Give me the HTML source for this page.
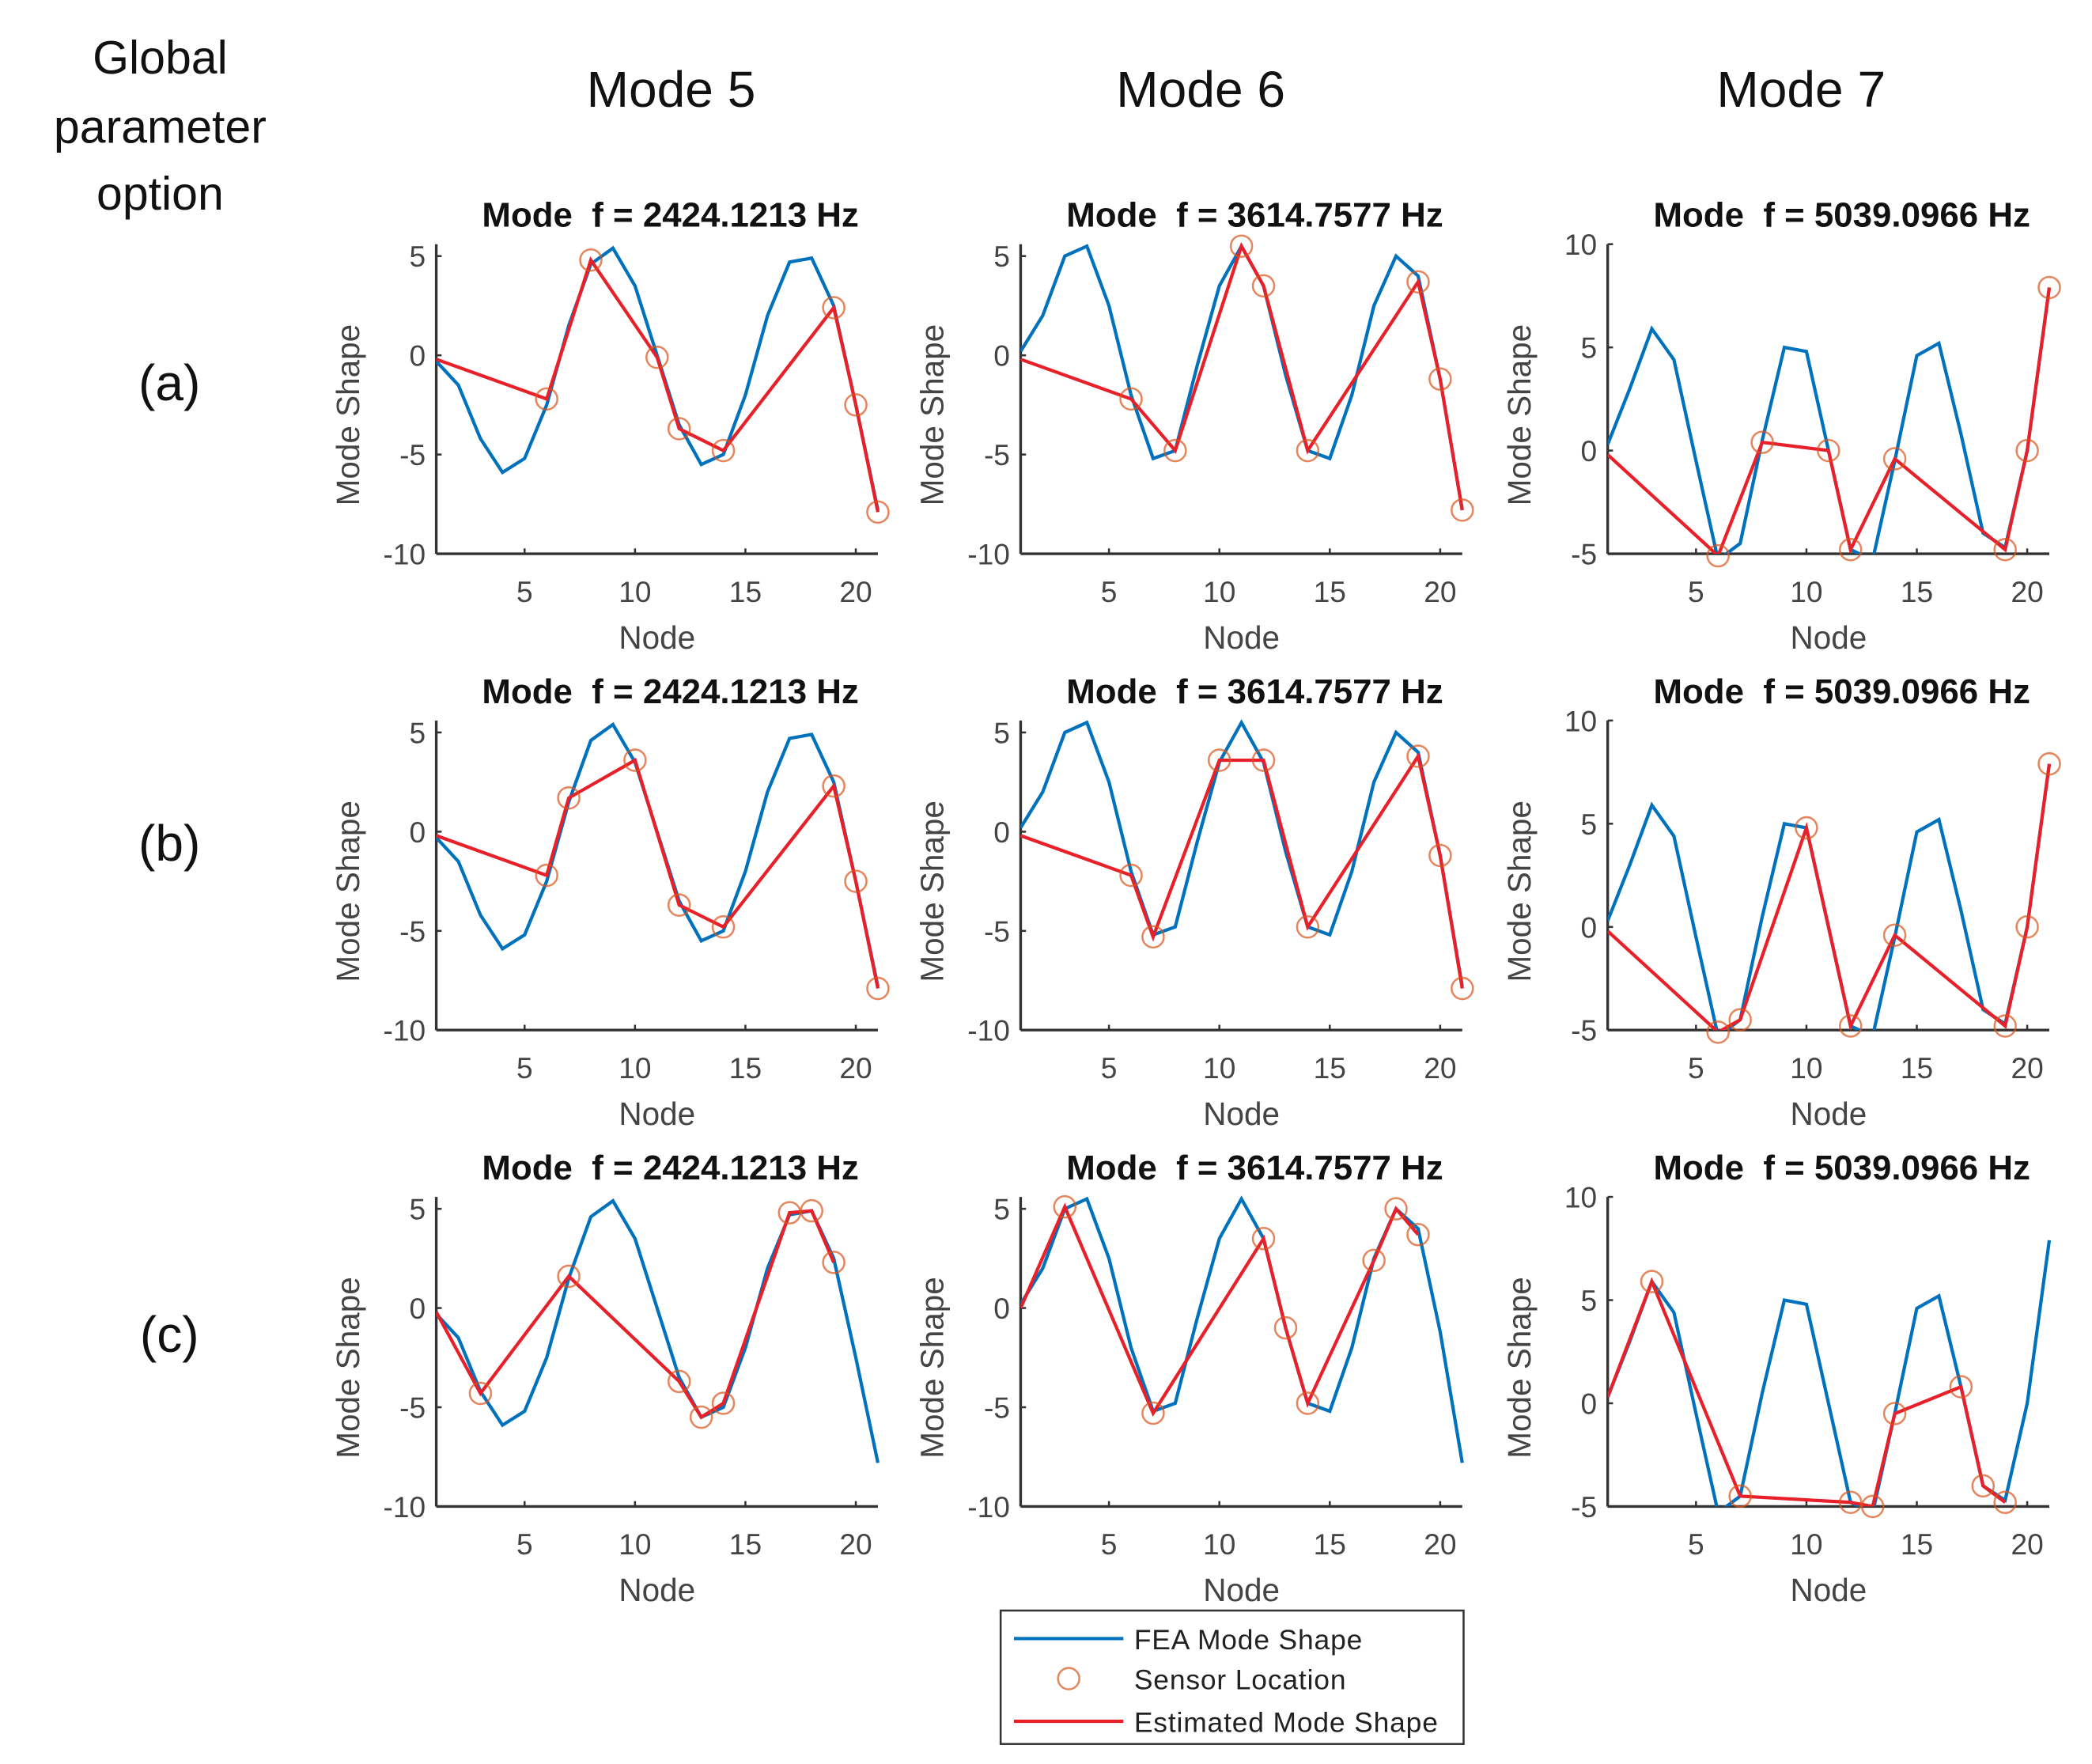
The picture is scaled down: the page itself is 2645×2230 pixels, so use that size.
<!DOCTYPE html>
<html><head><meta charset="utf-8"><style>
html,body{margin:0;padding:0;background:#fff;}
svg{display:block;}
text{font-family:"Liberation Sans",Arial,sans-serif;white-space:pre;}
</style></head><body>
<svg id="fig" width="2645" height="2230" viewBox="0 0 1568 1322" preserveAspectRatio="none" xmlns="http://www.w3.org/2000/svg" xml:space="preserve">
<rect width="1568" height="1322" fill="#fff"/>
<g font-size="35" fill="#111" text-anchor="middle">
<text x="120" y="55">Global</text><text x="120" y="107">parameter</text><text x="120" y="157">option</text>
</g>
<text x="503" y="80" font-size="38" text-anchor="middle" fill="#111">Mode 5</text>
<text x="900" y="80" font-size="38" text-anchor="middle" fill="#111">Mode 6</text>
<text x="1350" y="80" font-size="38" text-anchor="middle" fill="#111">Mode 7</text>
<text x="127" y="300" font-size="38" text-anchor="middle" fill="#111">(a)</text>
<text x="127" y="645" font-size="38" text-anchor="middle" fill="#111">(b)</text>
<text x="127" y="1013" font-size="38" text-anchor="middle" fill="#111">(c)</text>
<g id="panels"></g>
<g>
<rect x="750" y="1207" width="347" height="100" fill="#fff" stroke="#333" stroke-width="1.5"/>
<line x1="760" y1="1228" x2="842" y2="1228" stroke="#0072BD" stroke-width="2.5"/>
<text x="850" y="1236" font-size="21" fill="#222" letter-spacing="0.5">FEA Mode Shape</text>
<circle cx="801" cy="1258" r="8" fill="none" stroke="#D95319" stroke-opacity="0.7" stroke-width="1.5"/>
<text x="850" y="1266" font-size="21" fill="#222" letter-spacing="0.5">Sensor Location</text>
<line x1="760" y1="1290" x2="842" y2="1290" stroke="#E8202A" stroke-width="2.5"/>
<text x="850" y="1298" font-size="21" fill="#222" letter-spacing="0.5">Estimated Mode Shape</text>
</g>
</svg>
<script>
const nodes = [1,2,3,4,5,6,7,8,9,10,11,12,13,14,15,16,17,18,19,20,21];
const fea5 = [-0.3,-1.5,-4.2,-5.9,-5.2,-2.5,1.5,4.6,5.4,3.5,0,-3.5,-5.5,-5,-2,2,4.7,4.9,2.5,-2.5,-7.8];
const fea6 = [0.2,2,5,5.5,2.5,-2,-5.2,-4.8,-0.5,3.5,5.5,3.5,-1,-4.8,-5.2,-2,2.5,5,4,-1.2,-7.8];
const fea7 = [0.3,3,5.9,4.4,-0.5,-5.3,-4.5,0.5,5,4.8,0,-4.8,-5.3,-0.5,4.6,5.2,0.8,-4,-4.7,0,7.9];
const titles = ["Mode  f = 2424.1213 Hz","Mode  f = 3614.7577 Hz","Mode  f = 5039.0966 Hz"];
const yTicks56 = [-10,-5,0,5];
const yTicks7 = [-5,0,5,10];
const xTicks = [5,10,15,20];
const sensA5n=[6,8,11,12,14,19,20,21], sensA5v=[-2.2,4.8,-0.1,-3.7,-4.8,2.4,-2.5,-7.9];
const sensA6n=[6,8,11,12,14,19,20,21], sensA6v=[-2.2,-4.8,5.5,3.5,-4.8,3.7,-1.2,-7.8];
const sensA7n=[6,8,11,12,14,19,20,21], sensA7v=[-5.1,0.4,0,-4.8,-0.4,-4.8,0,7.9];
const sensB5n=[6,7,10,12,14,19,20,21], sensB5v=[-2.2,1.7,3.6,-3.7,-4.8,2.3,-2.5,-7.9];
const sensB6n=[6,7,10,12,14,19,20,21], sensB6v=[-2.2,-5.3,3.6,3.6,-4.8,3.8,-1.2,-7.9];
const sensB7n=[6,7,10,12,14,19,20,21], sensB7v=[-5.1,-4.5,4.8,-4.8,-0.4,-4.8,0,7.9];
const sensC5n=[3,7,12,13,14,17,18,19], sensC5v=[-4.3,1.6,-3.7,-5.5,-4.8,4.8,4.9,2.3];
const sensC6n=[3,7,12,13,14,17,18,19], sensC6v=[5.1,-5.3,3.5,-1,-4.8,2.4,5,3.7];
const sensC7n=[3,7,12,13,14,17,18,19], sensC7v=[5.9,-4.5,-4.8,-5,-0.5,0.8,-4,-4.8];
const estStartA = [-0.2,-0.2,-0.2], estStartB=[-0.2,-0.2,-0.2], estStartC=[-0.2,0,0.3];
const feas=[fea5,fea6,fea7];
const sens=[[[sensA5n,sensA5v],[sensA6n,sensA6v],[sensA7n,sensA7v]],
            [[sensB5n,sensB5v],[sensB6n,sensB6v],[sensB7n,sensB7v]],
            [[sensC5n,sensC5v],[sensC6n,sensC6v],[sensC7n,sensC7v]]];
const starts=[estStartA,estStartB,estStartC];

const NS="http://www.w3.org/2000/svg";
const root=document.getElementById('panels');
const colX=[327,765,1205], W=331, rowY=[183,540,897], H=232;
function mk(tag,attrs,parent){const e=document.createElementNS(NS,tag);for(const k in attrs)e.setAttribute(k,attrs[k]);parent.appendChild(e);return e;}
for(let r=0;r<3;r++)for(let c=0;c<3;c++){
  const x0=colX[c], y0=rowY[r];
  const ymin = c===2?-5:-10, ymax = c===2?10:5.6;
  const sx=v=>x0+(v-1)/20*W;
  const sy=v=>y0+H-(v-ymin)/(ymax-ymin)*H;
  const g=mk('g',{},root);
  
  
  const cid='clip'+r+c;
  const cp=mk('clipPath',{id:cid},g); mk('rect',{x:x0,y:y0-20,width:W+2,height:H+20},cp);
  const t=mk('text',{x:x0+W/2+10,y:y0-13,'font-size':26,'font-weight':'bold','text-anchor':'middle',fill:'#111'},g);
  t.textContent=titles[c];
  
  
  mk('line',{x1:x0,y1:y0,x2:x0,y2:y0+H,stroke:'#333','stroke-width':2},g);
  mk('line',{x1:x0,y1:y0+H,x2:x0+W,y2:y0+H,stroke:'#333','stroke-width':2},g);
  const yt=c===2?yTicks7:yTicks56;
  yt.forEach(v=>{const yy=sy(v);mk('line',{x1:x0,y1:yy,x2:x0+4,y2:yy,stroke:'#333','stroke-width':1.5},g);
    const tt=mk('text',{x:x0-8,y:yy+8,'font-size':22,'text-anchor':'end',fill:'#444'},g);tt.textContent=v;
    
    });
  xTicks.forEach(v=>{const xx=sx(v);mk('line',{x1:xx,y1:y0+H,x2:xx,y2:y0+H-4,stroke:'#333','stroke-width':1.5},g);
    const tt=mk('text',{x:xx,y:y0+H+36,'font-size':22,'text-anchor':'middle',fill:'#444'},g);tt.textContent=v;
    
    });
  const xl=mk('text',{x:x0+W/2,y:y0+H+71,'font-size':24,'text-anchor':'middle',fill:'#444'},g);xl.textContent='Node';
  
  
  const yx=x0-58, yy=y0+H/2+12;
  const yl=mk('text',{x:yx,y:yy,'font-size':24,'text-anchor':'middle',fill:'#444',transform:`rotate(-90 ${yx} ${yy})`},g);yl.textContent='Mode Shape';
  
  
  const fp=mk('polyline',{points:nodes.map((n,i)=>sx(n)+','+sy(feas[c][i])).join(' '),fill:'none',stroke:'#0072BD','stroke-width':2.5,'clip-path':`url(#${cid})`},g);
  
  
  const [sn,sv]=sens[r][c];
  const en=[1].concat(sn), ev=[starts[r][c]].concat(sv);
  const ep=mk('polyline',{points:en.map((n,i)=>sx(n)+','+sy(ev[i])).join(' '),fill:'none',stroke:'#E8202A','stroke-width':2.5,'clip-path':`url(#${cid})`},g);
  
  
  sn.forEach((n,i)=>{const ci=mk('circle',{cx:sx(n),cy:sy(sv[i]),r:8,fill:'none',stroke:'#D95319','stroke-opacity':0.7,'stroke-width':1.5},g);
    
    });
}
</script>
</body></html>
